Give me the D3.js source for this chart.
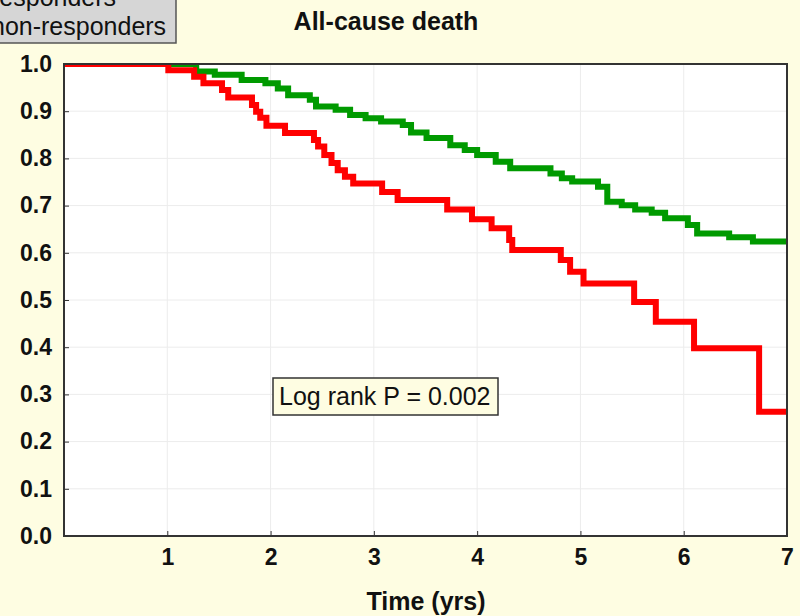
<!DOCTYPE html>
<html lang="en">
<head>
    <meta charset="UTF-8">
    <title>All-cause death</title>
    <script src="https://d3js.org/d3.v7.min.js"></script>
    <style>
        body { margin: 0; background: #fefde2; }
        svg { display: block; font-family: "Liberation Sans", Arial, sans-serif; }
    </style>
</head>
<body>
    <svg width="800" height="616"></svg>
    <script>
        // Kaplan-Meier steps: time (yrs) where the step starts, survival after it
        const greenTimes = [0, 1.28, 1.46, 1.72, 1.95, 2.07, 2.17, 2.38, 2.44, 2.63, 2.77, 2.92, 3.07, 3.28, 3.36, 3.51, 3.74, 3.88, 4.00, 4.18, 4.32, 4.71, 4.82, 4.92, 5.17, 5.26, 5.40, 5.53, 5.69, 5.82, 6.04, 6.13, 6.44, 6.67];
        const greenSurv  = [1.0, 0.984, 0.977, 0.966, 0.959, 0.948, 0.934, 0.924, 0.910, 0.903, 0.892, 0.885, 0.878, 0.871, 0.855, 0.843, 0.828, 0.818, 0.807, 0.793, 0.779, 0.768, 0.758, 0.751, 0.740, 0.708, 0.701, 0.692, 0.685, 0.673, 0.659, 0.641, 0.633, 0.624];
        const redTimes = [0, 1.01, 1.26, 1.35, 1.53, 1.59, 1.82, 1.86, 1.90, 1.96, 2.14, 2.42, 2.46, 2.52, 2.59, 2.65, 2.72, 2.80, 3.08, 3.23, 3.71, 3.95, 4.14, 4.31, 4.34, 4.81, 4.90, 5.03, 5.52, 5.73, 6.10, 6.73];
        const redSurv  = [1.0, 0.987, 0.973, 0.959, 0.945, 0.929, 0.913, 0.899, 0.886, 0.869, 0.854, 0.839, 0.825, 0.807, 0.790, 0.775, 0.761, 0.747, 0.729, 0.712, 0.692, 0.671, 0.652, 0.627, 0.606, 0.585, 0.560, 0.535, 0.496, 0.454, 0.398, 0.263];
        const endTime = 7;

        const xTicks = [1, 2, 3, 4, 5, 6, 7];
        const yTicks = [0, 0.1, 0.2, 0.3, 0.4, 0.5, 0.6, 0.7, 0.8, 0.9, 1.0];
        const legendLabels = ['responders', 'non-responders'];
        const title = 'All-cause death';
        const xTitle = 'Time (yrs)';
        const pText = 'Log rank P = 0.002';

        const svg = d3.select('svg');
        const plotLeft = 64, plotRight = 787, plotTop = 64, plotBottom = 536;

        const x = d3.scaleLinear().domain([0, 7]).range([plotLeft, plotRight]);
        const y = d3.scaleLinear().domain([0, 1]).range([plotBottom, plotTop]);

        // plot background
        svg.append('rect')
            .attr('x', plotLeft).attr('y', plotTop)
            .attr('width', plotRight - plotLeft).attr('height', plotBottom - plotTop)
            .attr('fill', '#ffffff');

        // grid
        const grid = svg.append('g').attr('stroke', '#ececec').attr('stroke-width', 1);
        grid.selectAll('.gx').data(xTicks.slice(0, -1)).enter().append('line')
            .attr('x1', d => x(d)).attr('x2', d => x(d))
            .attr('y1', plotTop).attr('y2', plotBottom);
        grid.selectAll('.gy').data(yTicks.slice(1, -1)).enter().append('line')
            .attr('x1', plotLeft).attr('x2', plotRight)
            .attr('y1', d => y(d)).attr('y2', d => y(d));

        svg.append('clipPath').attr('id', 'plot')
            .append('rect')
            .attr('x', plotLeft).attr('y', plotTop)
            .attr('width', plotRight - plotLeft).attr('height', plotBottom - plotTop);

        const line = d3.line()
            .x(d => x(d[0]))
            .y(d => y(d[1]))
            .curve(d3.curveStepAfter);

        function steps(times, surv) {
            const pts = times.map((t, i) => [t, surv[i]]);
            pts.push([endTime, surv[surv.length - 1]]);
            return pts;
        }

        const curves = svg.append('g').attr('clip-path', 'url(#plot)');
        curves.append('path')
            .attr('d', line(steps(greenTimes, greenSurv)))
            .attr('fill', 'none').attr('stroke', '#009a00')
            .attr('stroke-width', 6).attr('stroke-linejoin', 'miter');
        curves.append('path')
            .attr('d', line(steps(redTimes, redSurv)))
            .attr('fill', 'none').attr('stroke', '#ff0000')
            .attr('stroke-width', 6).attr('stroke-linejoin', 'miter');

        // axes
        const xAxis = svg.append('g')
            .attr('transform', `translate(0,${plotBottom})`)
            .call(d3.axisBottom(x).tickValues(xTicks).tickSize(-5).tickPadding(13).tickFormat(d3.format('d')));
        const yAxis = svg.append('g')
            .attr('transform', `translate(${plotLeft},0)`)
            .call(d3.axisLeft(y).tickValues(yTicks).tickSize(-5).tickPadding(12).tickFormat(d3.format('.1f')));

        [xAxis, yAxis].forEach(a => {
            a.select('.domain').remove();
            a.selectAll('.tick line').attr('stroke', '#333');
            a.selectAll('.tick text')
                .attr('fill', '#111')
                .style('font-size', '23px')
                .style('font-weight', 'bold')
                .style('font-family', '"Liberation Sans", Arial, sans-serif');
        });

        // frame
        svg.append('rect')
            .attr('x', plotLeft).attr('y', plotTop)
            .attr('width', plotRight - plotLeft).attr('height', plotBottom - plotTop)
            .attr('fill', 'none').attr('stroke', '#333').attr('stroke-width', 2);

        // titles
        svg.append('text')
            .attr('x', 386).attr('y', 30)
            .attr('text-anchor', 'middle')
            .style('font-size', '25px').style('font-weight', 'bold')
            .attr('fill', '#111')
            .text(title);
        svg.append('text')
            .attr('x', 426).attr('y', 610)
            .attr('text-anchor', 'middle')
            .style('font-size', '25px').style('font-weight', 'bold')
            .attr('fill', '#111')
            .text(xTitle);

        // legend (cut off at the top-left corner, as in the picture)
        svg.append('rect')
            .attr('x', -2).attr('y', -2).attr('width', 178).attr('height', 45)
            .attr('fill', '#d6d6d6').attr('stroke', '#555').attr('stroke-width', 1.5);
        svg.selectAll('.leg').data(legendLabels).enter().append('text')
            .attr('x', -9).attr('y', (d, i) => 6 + i * 29)
            .style('font-size', '25px')
            .attr('fill', '#111')
            .text(d => d);

        // log rank box
        svg.append('rect')
            .attr('x', 273).attr('y', 378).attr('width', 225).attr('height', 37)
            .attr('fill', '#fefde2').attr('stroke', '#333').attr('stroke-width', 1.5);
        svg.append('text')
            .attr('x', 279).attr('y', 405)
            .style('font-size', '25px')
            .attr('fill', '#111')
            .text(pText);
    </script>
</body>
</html>
